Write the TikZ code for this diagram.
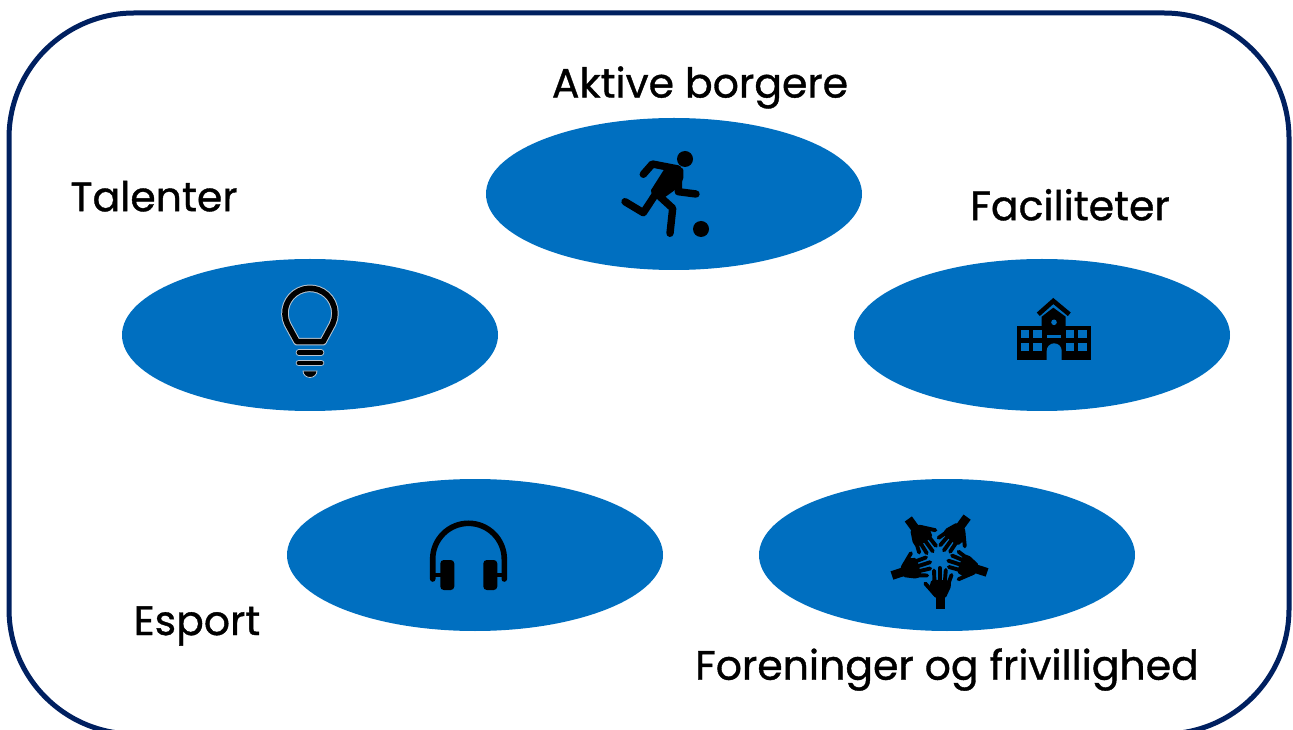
\documentclass[tikz,border=0pt]{standalone}
\usepackage{fontspec}
\setmainfont{Poppins}[FakeBold=0.9]
\usetikzlibrary{positioning}
\usetikzlibrary{shapes.geometric}
\definecolor{framenavy}{HTML}{002060}
\definecolor{blobblue}{HTML}{006FC0}
\definecolor{halogray}{HTML}{B8C4D0}
\tikzset{
  blob/.style={ellipse, fill=blobblue, minimum width=376pt, minimum height=152pt, inner sep=0pt},
  tag/.style={font=\fontsize{41}{47}\selectfont, text=black, inner sep=0pt},
  limb/.style={draw=black, line width=7.4pt, line cap=round, line join=round},
  kicker/.pic={
    \fill (11,35) circle (8pt);
    \fill (27,-35) circle (8pt);
    \fill[rounded corners=2pt] (-9,26) -- (9.3,26) -- (9.3,14) -- (1,4) -- (-10.7,-4.3) -- (-19,-2.7) -- (-24,2.3) -- cycle;
    \draw[limb] (-30.7,19.7) -- (-21.7,30) -- (4,25);
    \draw[limb] (4.3,16) -- (4.3,2.3) -- (22,0);
    \draw[limb] (-19,-1) -- (-30.7,-18.7) -- (-49,-7.7);
    \draw[limb] (-14,-2.7) -- (-1.3,-14.3) -- (-4,-39.3);
  },
  bulb/.pic={
    \draw[halogray, line width=7.6pt, line join=round] (-13,-6.7) -- (-22.6,10.9) arc[start angle=205.5, end angle=-25.5, radius=25pt] -- (13,-6.7) -- cycle;
    \draw[black, line width=5.6pt, line join=round] (-13,-6.7) -- (-22.6,10.9) arc[start angle=205.5, end angle=-25.5, radius=25pt] -- (13,-6.7) -- cycle;
    \foreach \ringy in {-17.7,-28} {
      \draw[halogray, line width=6.6pt, line cap=round] (-11,\ringy) -- (11,\ringy);
      \draw[black, line width=4.8pt, line cap=round] (-11,\ringy) -- (11,\ringy);
    }
    \filldraw[fill=black, draw=halogray, line width=0.8pt] (-7,-36) arc[start angle=180, end angle=360, x radius=7pt, y radius=6.5pt] -- cycle;
  },
  school/.pic={
    \fill (-25.3,-25) rectangle (48.7,9.3);
    \fill (-0.3,9) -- (-0.3,18.3) -- (11.3,27.3) -- (23.7,18.3) -- (23.7,9) -- cycle;
    \draw[black, line width=4.6pt] (-3.7,20.7) -- (11.3,34) -- (27.3,20.7);
    \foreach \wx in {-21,-8.7,24,36.3}
      \foreach \wy in {-3.3,-15.7}
        \fill[blobblue] (\wx,\wy) rectangle +(8.2,7.8);
    \fill[blobblue] (4.7,-25) -- (4.7,-15.8) arc[start angle=180, end angle=0, radius=7.5pt] -- (19.7,-25) -- cycle;
    \fill[blobblue] (12,12.7) circle (2.8pt);
    \fill[blobblue] (4.7,-3.3) rectangle (19,0);
  },
  phones/.pic={
    \draw[black, line width=5.6pt, line cap=round] (-42.3,-24) -- (-42.3,-4.1) arc[start angle=180, end angle=0, radius=35.8pt] -- (29.3,-24);
    \draw[black, line width=3.5pt] (-42.3,-20) -- (-34,-20);
    \draw[black, line width=3.5pt] (29.3,-20) -- (22,-20);
    \fill[rounded corners=3.5pt] (-34.7,-35) rectangle (-20.7,-5);
    \fill[rounded corners=3.5pt] (8.3,-35) rectangle (22.3,-5);
  },
  hand/.pic={
    \fill (-2.8,-50) rectangle (6,-38);
    \fill[rounded corners=2pt] (-3.5,-40) -- (-10,-30) -- (-7.5,-21) -- (11,-22) -- (12.5,-27) -- (6.5,-40) -- cycle;
    \foreach \tipx/\tipy/\rootx/\rooty in {-5/-12/-4.5/-24, 0.8/-9.5/0.8/-24, 6.8/-11.5/5.8/-24, 12.5/-16.5/9.5/-25} {
      \draw[black, line width=3.9pt, line cap=round] (\rootx,\rooty) -- (\tipx,\tipy);
    }
    \draw[black, line width=3.9pt, line cap=round] (-4,-36) -- (-13.7,-25);
  },
}
\begin{document}
\begin{tikzpicture}[x=1pt, y=1pt]
  \useasboundingbox (0,0) rectangle (1293,729);
  \begin{scope}
    \clip (0,0) rectangle (1293,729);
    \draw[framenavy, line width=5pt, rounded corners=125pt] (9,-5) rectangle (1289,716);
  \end{scope}

  \node[blob] (aktive) at (674,535) {};
  \node[blob] (talent) at (310,394) {};
  \node[blob] (facilitet) at (1042,394) {};
  \node[blob] (esport) at (475,174) {};
  \node[blob] (forening) at (947,174) {};

  \pic at (aktive) {kicker};
  \pic at (talent) {bulb};
  \pic at (facilitet) {school};
  \pic at (esport) {phones};
  \foreach \handrot in {0,72,144,216,288} {
    \pic[rotate=\handrot] at ([shift={(-8,-3.5)}]forening) {hand};
  }

  \node[tag, above=9pt of aktive.north, xshift=26pt] (aktivetag) {Aktive borgere};
  \node[tag, above=47pt of talent.north, xshift=-156pt] (talenttag) {Talenter};
  \node[tag, above=38pt of facilitet.north, xshift=28pt] (facilitettag) {Faciliteter};
  \node[tag, below=-25pt of esport.south, xshift=-278pt] (esporttag) {Esport};
  \node[tag, below=17pt of forening.south] (foreningtag) {Foreninger og frivillighed};
\end{tikzpicture}
\end{document}
